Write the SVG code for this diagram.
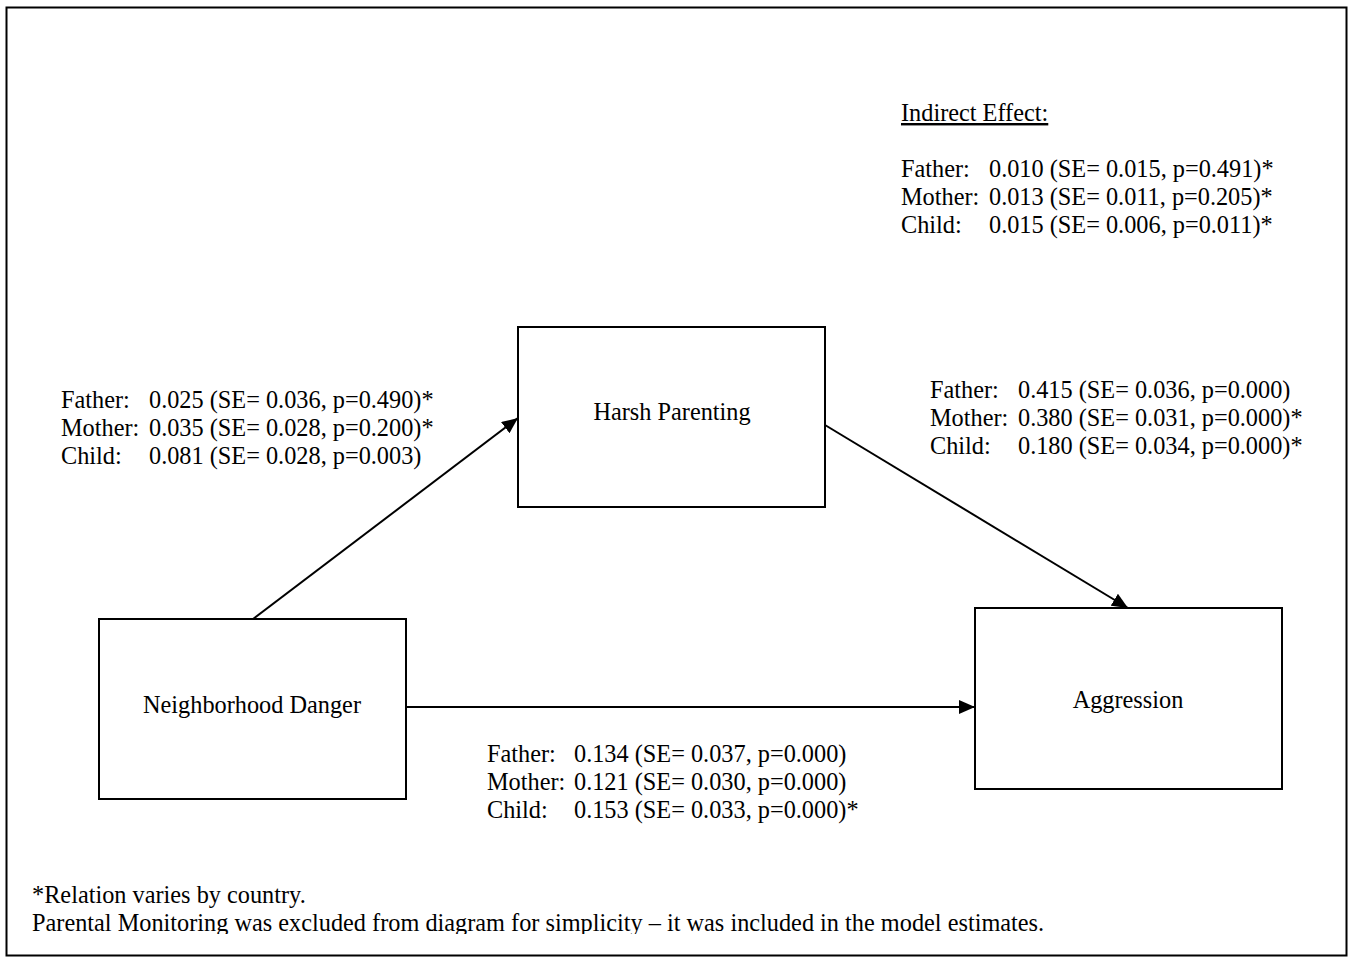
<svg xmlns="http://www.w3.org/2000/svg" width="1351" height="958" viewBox="0 0 1351 958">
<style>
text{font-family:"Liberation Serif","Times New Roman",serif;font-size:24.3px;fill:#000}
.box{fill:#fff;stroke:#000;stroke-width:2}
.edge{stroke:#000;stroke-width:2;fill:none}
</style>
<defs>
<marker id="arrB" viewBox="0 0 16 14" refX="16" refY="7" markerWidth="16" markerHeight="14" markerUnits="userSpaceOnUse" orient="auto"><path d="M0,0 L16,7 L0,14 z" fill="#000"/></marker>
<clipPath id="clipFoot"><rect x="0" y="0" width="1351" height="934"/></clipPath>
</defs>
<rect x="0" y="0" width="1351" height="958" fill="#fff"/>
<rect x="6.5" y="7.5" width="1340" height="948" fill="none" stroke="#000" stroke-width="2"/>
<g id="connectors">
<line class="edge" x1="253" y1="619" x2="518" y2="418" marker-end="url(#arrB)"/>
<line class="edge" x1="825" y1="425" x2="1128" y2="608" marker-end="url(#arrB)"/>
<line class="edge" x1="406" y1="707" x2="975" y2="707" marker-end="url(#arrB)"/>
</g>
<g id="harsh">
<rect class="box" x="518" y="327" width="307" height="180"/>
<text x="672" y="420" text-anchor="middle">Harsh Parenting</text>
</g>
<g id="danger">
<rect class="box" x="99" y="619" width="307" height="180"/>
<text x="252" y="713" text-anchor="middle">Neighborhood Danger</text>
</g>
<g id="aggression">
<rect class="box" x="975" y="608" width="307" height="181"/>
<text x="1128" y="708" text-anchor="middle">Aggression</text>
</g>
<g id="indirect">
<text x="901" y="121" text-decoration="underline">Indirect Effect:</text>
<text x="901" y="177">Father:</text><text x="989" y="177">0.010 (SE= 0.015, p=0.491)*</text>
<text x="901" y="205">Mother:</text><text x="989" y="205">0.013 (SE= 0.011, p=0.205)*</text>
<text x="901" y="233">Child:</text><text x="989" y="233">0.015 (SE= 0.006, p=0.011)*</text>
</g>
<g id="label-a">
<text x="61" y="408">Father:</text><text x="149" y="408">0.025 (SE= 0.036, p=0.490)*</text>
<text x="61" y="436">Mother:</text><text x="149" y="436">0.035 (SE= 0.028, p=0.200)*</text>
<text x="61" y="464">Child:</text><text x="149" y="464">0.081 (SE= 0.028, p=0.003)</text>
</g>
<g id="label-b">
<text x="930" y="398">Father:</text><text x="1018" y="398">0.415 (SE= 0.036, p=0.000)</text>
<text x="930" y="426">Mother:</text><text x="1018" y="426">0.380 (SE= 0.031, p=0.000)*</text>
<text x="930" y="454">Child:</text><text x="1018" y="454">0.180 (SE= 0.034, p=0.000)*</text>
</g>
<g id="label-c">
<text x="487" y="762">Father:</text><text x="574" y="762">0.134 (SE= 0.037, p=0.000)</text>
<text x="487" y="790">Mother:</text><text x="574" y="790">0.121 (SE= 0.030, p=0.000)</text>
<text x="487" y="818">Child:</text><text x="574" y="818">0.153 (SE= 0.033, p=0.000)*</text>
</g>
<g id="footnote">
<text x="32" y="903">*Relation varies by country.</text>
<text x="32" y="931" clip-path="url(#clipFoot)">Parental Monitoring was excluded from diagram for simplicity – it was included in the model estimates.</text>
</g>
</svg>
